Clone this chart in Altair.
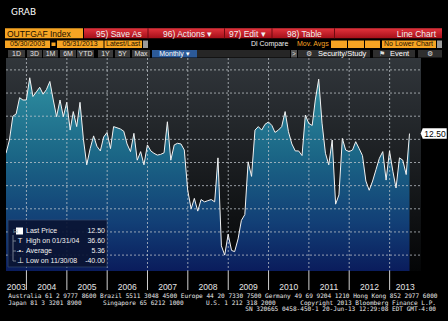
import altair as alt
import pandas as pd

# ---------------- data ----------------
values = [
    4.0, 9.7, 20.0, 21.0, 28.0, 27.0, 27.0,                                   # Jun-Dec 2003
    36.6, 28.5, 30.5, 32.5, 29.5, 31.5, 35.0, 27.0, 19.8, 27.0, 19.8, 26.0,   # 2004
    14.0, 22.0, 15.5, 26.0, 10.0, -1.0, 6.0, 11.5, 7.0, 5.0, 11.0, 13.0,      # 2005
    6.0, 15.5, 15.0, 14.5, 13.5, 8.0, 4.7, 12.6, 1.0, 4.7, -1.0, 7.6,         # 2006
    5.0, 4.0, 3.2, 3.5, 4.2, 17.6, 1.0, 7.6, 8.3, 8.0, 5.4, -12.0,            # 2007
    -20.0, -15.5, -21.0, -16.0, -17.0, -16.5, -16.0, -17.0, 2.0, -36.0, -40.0, -31.0,  # 2008
    -38.0, -38.5, -33.0, -25.0, -22.5, 0.3, -6.0, 14.0, 15.5, 14.0, 16.5, 17.5,        # 2009
    16.0, 13.0, 14.0, 15.5, 22.0, 13.3, 8.0, 5.0, 5.0, 3.0, 20.5, 16.9,       # 2010
    16.0, 27.0, 36.0, 17.0, 4.0, -1.0, 9.7, -18.0, -14.0, 10.4, 5.4, 4.7,     # 2011
    5.4, 9.0, 6.0, 3.0, -8.0, -12.0, -8.0, -3.0, 1.8, 4.7, -7.6, 5.0,         # 2012
    -4.0, -11.0, 2.0, 1.0, -5.2, 12.5,                                        # 2013
]
try:
    dates = pd.date_range("2003-06-30", periods=len(values), freq="ME")
except Exception:
    dates = pd.date_range("2003-06-30", periods=len(values), freq="M")
date_str = [d.strftime("%Y-%m-%d") for d in dates]

grid_values = [-40, -30, -20, -10, 0, 10, 20, 30, 40]
divider_years = list(range(2004, 2014))
label_years = list(range(2003, 2014))

legend_rows = [
    ("Last Price", "12.50"),
    ("High on 01/31/04", "36.60"),
    ("Average", "5.36"),
    ("Low on 11/30/08", "-40.00"),
]

df = pd.DataFrame({"date": date_str, "value": values})
df_last = df.tail(1)
df_grid = pd.DataFrame({"gv": grid_values})
df_div = pd.DataFrame({"d": [f"{y}-01-01" for y in divider_years]})

x_start = pd.Timestamp("2003-06-30")
x_end = pd.Timestamp("2013-10-12")
mids = []
for y in label_years:
    a = max(pd.Timestamp(f"{y}-01-01"), x_start)
    b = min(pd.Timestamp(f"{y + 1}-01-01"), x_end)
    mids.append((a + (b - a) / 2).strftime("%Y-%m-%d"))
df_lab = pd.DataFrame({"d": mids, "t": [str(y) for y in label_years]})

# ---------------- layout ----------------
X0, Y0 = 6, 58
W, H = 415, 213
YMIN, YMAX = -46.87, 45.14
NARROW = "'Liberation Sans Narrow', 'Liberation Sans', sans-serif"
MONO = "'DejaVu Sans Mono', 'Liberation Mono', monospace"
ORANGE = "#f6a423"
GRID = "#c3c8cd"

xs = alt.Scale(domain=[alt.DateTime(year=2003, month=6, date=30),
                       alt.DateTime(year=2013, month=10, date=12)])
ys = alt.Scale(domain=[YMIN, YMAX], nice=False, zero=False)

one = pd.DataFrame({"k": [0]})


def txt(s, x, y, color="#f0f0f0", size=8, align="left", font=NARROW, weight="normal"):
    return alt.Chart(one).mark_text(
        text=s, align=align, baseline="middle", fontSize=size, font=font,
        color=color, fontWeight=weight
    ).encode(x=alt.value(x - X0), y=alt.value(y - Y0))


def box(x1, y1, x2, y2, fill, stroke=None, opacity=1.0):
    kw = dict(fill=fill, opacity=opacity)
    if stroke:
        kw["stroke"] = stroke
        kw["strokeWidth"] = 0.8
    return alt.Chart(one).mark_rect(**kw).encode(
        x=alt.value(x1 - X0), x2=alt.value(x2 - X0),
        y=alt.value(y1 - Y0), y2=alt.value(y2 - Y0))


def vgrad(c1, c2):
    return alt.Gradient(gradient="linear", x1=0, x2=0, y1=0, y2=1,
                        stops=[alt.GradientStop(offset=0, color=c1),
                               alt.GradientStop(offset=1, color=c2)])


layers = []

# plot background
layers.append(box(X0, Y0, X0 + W, Y0 + H, vgrad("#31363b", "#040506")))

quarters = [alt.DateTime(year=y, month=m, date=1) for y in range(2003, 2014) for m in (1, 4, 7, 10)]
quarters = quarters[2:-1]

area = alt.Chart(df).mark_area(
    clip=True,
    fill=alt.Gradient(gradient="linear", x1=0, x2=0, y1=0, y2=1, stops=[
        alt.GradientStop(offset=0, color="#2e8ea0"),
        alt.GradientStop(offset=0.4, color="#1b6686"),
        alt.GradientStop(offset=0.75, color="#123f76"),
        alt.GradientStop(offset=1, color="#0a1c5c"),
    ]),
).encode(
    x=alt.X("date:T", scale=xs, axis=alt.Axis(
        orient="bottom", values=quarters, labels=False, title=None, grid=False,
        tickSize=3, tickColor="#bbbbbb", domainColor="#9a9a9a", tickWidth=1)),
    y=alt.Y("value:Q", scale=ys, axis=alt.Axis(
        orient="right", values=grid_values, title=None, grid=False, domain=False,
        tickSize=3, tickColor="#ffffff", labelColor="#ffffff", labelFont=NARROW,
        labelFontSize=8.5, labelPadding=1,
        labelExpr="(datum.value < 0 ? '-' : '') + abs(datum.value)")),
    y2=alt.Y2(datum=YMIN),
)
layers.append(area)

hgrid = alt.Chart(df_grid).mark_rule(color=GRID, strokeDash=[2, 2], strokeWidth=1, opacity=0.75).encode(
    y=alt.Y("gv:Q", scale=ys, axis=None), x=alt.value(0), x2=alt.value(W))
layers.append(hgrid)

vgrid = alt.Chart(df_div).mark_rule(color=GRID, strokeDash=[2, 2], strokeWidth=1, opacity=0.75).encode(
    x=alt.X("d:T", scale=xs, axis=None), y=alt.value(0), y2=alt.value(H))
layers.append(vgrid)

vdiv = alt.Chart(df_div).mark_rule(color="#d0d0d0", strokeWidth=1).encode(
    x=alt.X("d:T", scale=xs, axis=None), y=alt.value(H), y2=alt.value(H + 19))
layers.append(vdiv)

line = alt.Chart(df).mark_line(clip=True, color="#f2f2f2", strokeWidth=1).encode(
    x=alt.X("date:T", scale=xs, axis=None), y=alt.Y("value:Q", scale=ys, axis=None))
layers.append(line)

ylabels = alt.Chart(df_lab).mark_text(fontSize=8.5, font=NARROW, color="#e6e6e6", baseline="middle").encode(
    x=alt.X("d:T", scale=xs, axis=None), y=alt.value(287 - Y0), text="t:N")
layers.append(ylabels)

# last price tag
tag = alt.Chart(df_last).mark_point(
    shape="M -1 0 L -0.846 -0.4 L 1 -0.4 L 1 0.4 L -0.846 0.4 Z",
    size=676, filled=True, fill="#ffffff", opacity=1, strokeWidth=0).encode(
    x=alt.value(433.7 - X0), y=alt.Y("value:Q", scale=ys, axis=None))
layers.append(tag)
tagtxt = alt.Chart(df_last).mark_text(fontSize=8.5, font=NARROW, color="#000000", baseline="middle", align="center").encode(
    x=alt.value(435 - X0), y=alt.Y("value:Q", scale=ys, axis=None), text=alt.Text("value:Q", format=".2f"))
layers.append(tagtxt)

# legend box
layers.append(box(8, 220, 107, 267, "#0a1433", stroke="#34466a", opacity=0.92))
layers.append(box(16, 227.5, 23, 234.5, "#ffffff"))
layers.append(txt("⊟", 13, 231, color="#9aa", size=6))
layers.append(box(12.6, 235, 13.4, 261, "#8a93a0"))
for yy in (241, 251, 261):
    layers.append(box(13, yy - 0.4, 16, yy + 0.4, "#8a93a0"))
layers.append(txt("T", 20, 241, size=7.5, align="center"))
layers.append(txt("-•-", 20, 251, size=6.5, align="center"))
layers.append(txt("⊥", 20, 261, size=7.5, align="center"))
for k, (lab, val) in enumerate(legend_rows):
    yy = 231 + 10 * k
    layers.append(txt(lab, 26, yy, size=7))
    layers.append(txt(val, 105, yy, size=7, align="right"))

# ---------------- terminal header ----------------
layers.append(txt("GRAB", 11, 12, size=9, font="'DejaVu Sans', sans-serif", color="#ffffff"))

# row 1
layers.append(box(5, 28.3, 83, 38.3, ORANGE))
layers.append(txt("OUTFGAF Index", 7, 33.5, color="#1a1000", size=8.5))
layers.append(box(84, 28.3, 442, 38.3, vgrad("#e3333c", "#a30f19")))
for sx in (147.5, 224, 271.5, 334):
    layers.append(box(sx, 28.3, sx + 1, 38.3, "#6e0a10"))
layers.append(txt("95) Save As", 96, 33.5, size=8.5))
layers.append(txt("96) Actions ▾", 163, 33.5, size=8.5))
layers.append(txt("97) Edit ▾", 229, 33.5, size=8.5))
layers.append(txt("98) Table", 287, 33.5, size=8.5))
layers.append(txt("Line Chart", 436, 33.5, size=8.5, align="right"))

# row 2
layers.append(box(5, 40.5, 50, 48, ORANGE))
layers.append(txt("05/30/2003", 27.5, 44.3, color="#1a1000", size=7, align="center"))
layers.append(box(51.5, 42.5, 55.5, 46, ORANGE))
layers.append(box(57, 40.5, 103.5, 48, ORANGE))
layers.append(txt("05/31/2013", 80, 44.3, color="#1a1000", size=7, align="center"))
layers.append(box(104.5, 40.5, 142, 48, ORANGE))
layers.append(txt("Latest/Last", 106, 44.3, color="#1a1000", size=7))
layers.append(box(143, 40.5, 148, 48, "#9a9a9a"))
layers.append(txt("Dl Compare", 251, 44.3, size=7))
layers.append(txt("Mov. Avgs", 297, 44.3, size=7, color=ORANGE))
for a, b in ((331, 347), (348, 364), (365, 380)):
    layers.append(box(a, 40.5, b, 48, ORANGE))
layers.append(box(382, 40.5, 436, 48, ORANGE))
layers.append(txt("No Lower Chart", 384, 44.3, color="#1a1000", size=7))
layers.append(box(437, 40.5, 442, 48, "#9a9a9a"))

# row 3
for lab, a, b in (("1D", 8, 25), ("3D", 27, 42), ("1M", 43, 58), ("6M", 60, 76),
                  ("YTD", 77, 94), ("1Y", 98, 113), ("5Y", 115, 130), ("Max", 132, 150)):
    layers.append(box(a, 50, b, 57.5, "#3a3a3a"))
    layers.append(txt(lab, (a + b) / 2, 54, size=7, align="center", color="#e0e0e0"))
layers.append(box(152, 50, 197, 57.5, "#2c5a98"))
layers.append(txt("Monthly ▾", 174.5, 54, size=7, align="center", color="#ffffff"))
layers.append(box(197, 50, 290, 57.5, "#262626"))
layers.append(box(291, 50, 297, 57.5, "#555555"))
layers.append(txt(">", 294, 54, size=6.5, align="center", color="#dddddd"))
layers.append(box(298, 50, 370, 57.5, "#2e2e2e"))
layers.append(txt("⚙", 309, 54, size=7, align="center", color="#dddddd"))
layers.append(txt("Security/Study", 318, 54, size=7.5, color="#ffffff"))
layers.append(box(373, 50, 415, 57.5, "#2e2e2e"))
layers.append(txt("⚑", 382, 54, size=7, align="center", color="#dddddd"))
layers.append(txt("Event", 390, 54, size=7.5, color="#ffffff"))
layers.append(box(418, 50, 442, 57.5, "#2e2e2e"))
layers.append(txt("⚙", 430, 54, size=7, align="center", color="#dddddd"))

# footer
FOOT = "#e8e8e8"
layers.append(txt("Australia 61 2 9777 8600 Brazil 5511 3048 4500 Europe 44 20 7330 7500 Germany 49 69 9204 1210 Hong Kong 852 2977 6000",
                  8.3, 296, size=6.1, font=MONO, color=FOOT))
layers.append(txt("Japan 81 3 3201 8900", 8.3, 302.5, size=6.1, font=MONO, color=FOOT))
layers.append(txt("Singapore 65 6212 1000", 103, 302.5, size=6.1, font=MONO, color=FOOT))
layers.append(txt("U.S. 1 212 318 2000", 206, 302.5, size=6.1, font=MONO, color=FOOT))
layers.append(txt("Copyright 2013 Bloomberg Finance L.P.", 436, 302.5, size=6.1, font=MONO, color=FOOT, align="right"))
layers.append(txt("SN 320665 0458-450-1 20-Jun-13 12:29:08 EDT  GMT-4:00", 436, 309, size=6.1, font=MONO, color=FOOT, align="right"))

chart = alt.layer(*layers).properties(
    width=W, height=H,
    padding={"left": X0, "top": Y0, "right": 448 - X0 - W, "bottom": 321 - Y0 - H},
    autosize="none", background="#000000",
).configure_view(stroke=None)

chart.save("out.html", embed_options={"renderer": "svg", "actions": False})
